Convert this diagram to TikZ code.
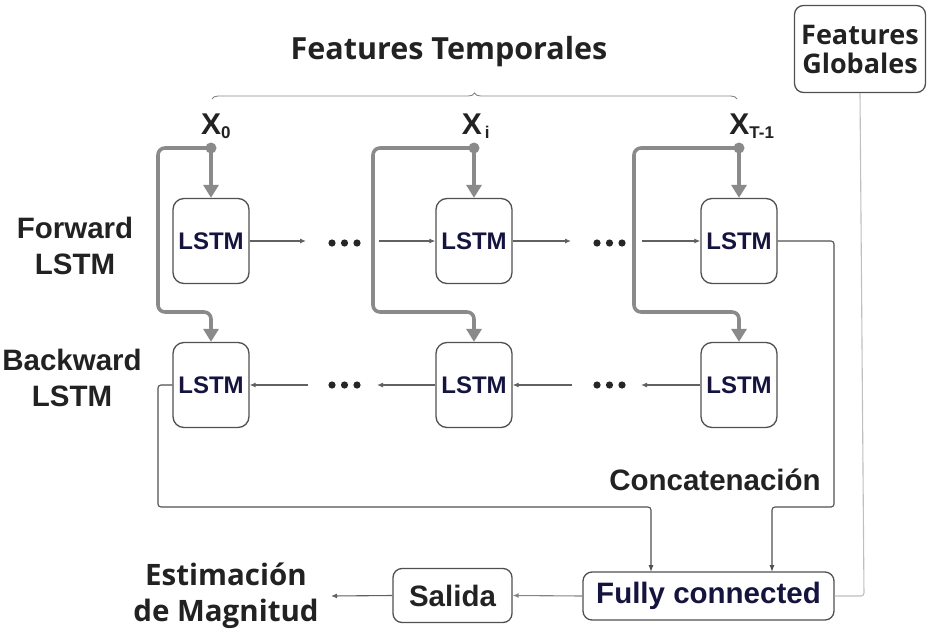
\documentclass[tikz,border=0pt]{standalone}
\usepackage{fontspec}
\setmainfont{Liberation Sans}
\newfontfamily\osans{Open Sans}
\usetikzlibrary{arrows.meta,decorations.pathreplacing}
\definecolor{navy}{HTML}{14143F}
\definecolor{boxline}{HTML}{505050}
\definecolor{thickgray}{HTML}{8A8A8A}
\definecolor{txt}{HTML}{222222}
\tikzset{
  lstm/.style={draw=boxline, line width=1.3pt, rounded corners=11pt, minimum width=76pt, minimum height=85pt, inner sep=0pt,
    font=\fontsize{24}{26}\selectfont\bfseries, text=navy},
  rbox/.style={draw=boxline, line width=1.3pt, rounded corners=9pt, inner sep=0pt},
  thin/.style={draw=boxline!90, line width=1.1pt, -{Latex[length=6pt,width=5pt]}},
  thick/.style={draw=thickgray, line width=3.6pt, rounded corners=7pt, -{Triangle[length=13pt,width=15pt]}},
  conn/.style={draw=boxline, line width=1.1pt, rounded corners=3pt, -{Latex[length=7pt,width=5pt]}},
  lbl/.style={font=\fontsize{29.5}{36}\selectfont\bfseries, text=txt, align=center},
  olbl/.style={font=\osans\fontsize{29.5}{36}\selectfont\bfseries, text=txt, align=center},
  xlbl/.style={font=\fontsize{30}{32}\selectfont\bfseries, text=txt, inner sep=0pt}
}
\begin{document}
\begin{tikzpicture}[x=1pt,y=-1pt]
\useasboundingbox (0,0) rectangle (929,637);

% titles
\node[olbl, font=\osans\fontsize{30.5}{36}\selectfont\bfseries] (ft) at (449,52) {Features Temporales};
\node[rbox, minimum width=131pt, minimum height=87pt, olbl, font=\osans\fontsize{27}{33}\selectfont\bfseries] (fg) at (860,49) {Features\\[-4pt]Globales};
\coordinate (b1) at (212,99);
\coordinate (b2) at (737,99);
\draw[draw=boxline!70, line width=0.9pt, decorate, decoration={brace, amplitude=6pt}] (b1) -- (b2);

% side labels
\node[lbl] (fw) at (75,246) {Forward\\LSTM};
\node[lbl] (bw) at (72,378) {Backward\\LSTM};

% inputs
\node[xlbl] (x0) at (216,126) {X\textsubscript{\fontsize{17}{17}\selectfont 0}};
\node[xlbl] (xi) at (476,126) {X\textsubscript{\fontsize{17}{17}\selectfont\,i}};
\node[xlbl] (xt) at (752,126) {X\textsubscript{\fontsize{17}{17}\selectfont T-1}};

% LSTM boxes
\node[lstm] (f1) at (211,241) {LSTM};
\node[lstm] (f2) at (474,241) {LSTM};
\node[lstm] (f3) at (739,241) {LSTM};
\node[lstm] (k1) at (211,385) {LSTM};
\node[lstm] (k2) at (474,385) {LSTM};
\node[lstm] (k3) at (739,385) {LSTM};

% input dots
\coordinate (p1) at (211,148);
\coordinate (p2) at (474,148);
\coordinate (p3) at (739,148);
\foreach \p in {p1,p2,p3}{
  \fill[thickgray] (\p) circle (5.5pt);
}
\draw[thick, rounded corners=0pt] (p1) -- (f1.north);
\draw[thick, rounded corners=0pt] (p2) -- (f2.north);
\draw[thick, rounded corners=0pt] (p3) -- (f3.north);
\draw[thick] (p1) -- (158,148) -- (158,312) -- (211,312) -- (k1.north);
\draw[thick] (p2) -- (373,148) -- (373,312) -- (474,312) -- (k2.north);
\draw[thick] (p3) -- (634,148) -- (634,312) -- (739,312) -- (k3.north);

% ellipsis dots
\foreach \cx/\cy in {332/243,344.5/243,357/243,597/243,609.5/243,622/243,332/385,344.5/385,357/385,597/385,609.5/385,622/385}{
  \fill[black!85] (\cx,\cy) circle (3.6pt);
}
\coordinate (fa1) at (306,241);
\coordinate (fa2) at (379,241);
\coordinate (fa3) at (571,241);
\coordinate (fa4) at (642,241);
\draw[thin] (f1.east) -- (fa1);
\draw[thin] (fa2) -- (f2.west);
\draw[thin] (f2.east) -- (fa3);
\draw[thin] (fa4) -- (f3.west);

\coordinate (ka1) at (308,385);
\coordinate (ka2) at (377,385);
\coordinate (ka3) at (572,385);
\coordinate (ka4) at (641,385);
\draw[thin] (ka1) -- (k1.east);
\draw[thin] (k2.west) -- (ka2);
\draw[thin] (ka3) -- (k2.east);
\draw[thin] (k3.west) -- (ka4);

% bottom
\node[rbox, minimum width=251pt, minimum height=48pt, font=\fontsize{29.5}{32}\selectfont\bfseries, text=navy] (fc) at (708.5,596) {Fully connected};
\node[rbox, minimum width=119pt, minimum height=54pt, font=\fontsize{29.5}{32}\selectfont\bfseries, text=txt] (sal) at (452.5,595.5) {Salida};
\node[olbl] (est) at (226,596) {Estimación\\de Magnitud};
\node[lbl] (cat) at (715,480) {Concatenación};

\draw[conn] (f3.east) -- (834,241) -- (834,507) -- (772,507) -- (772,572);
\draw[conn] (k1.west) -- (158,385) -- (158,507) -- (651,507) -- (651,572);
\draw[draw=black!25, line width=1.1pt, rounded corners=3pt] (fg.south) -- (864,596) -- (fc.east);
\draw[draw=boxline!70, line width=1.1pt, -{Latex[length=6pt,width=5pt]}] (fc.west) -- (sal.east);
\coordinate (eo) at (331,596);
\draw[thin] (sal.west) -- (eo);
\end{tikzpicture}
\end{document}
